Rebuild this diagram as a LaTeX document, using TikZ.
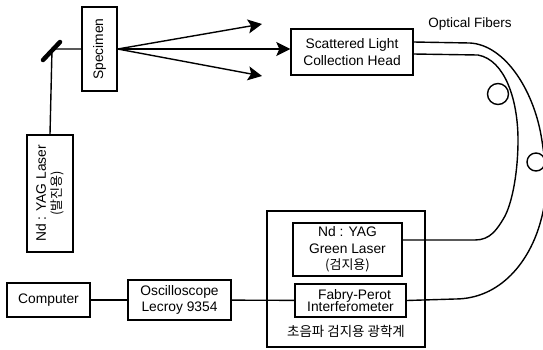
\documentclass[tikz,border=0pt]{standalone}
\usepackage{fontspec}
\setmainfont{Liberation Sans}
\newfontfamily\krfont{Noto Sans CJK KR}
\usetikzlibrary{arrows.meta,calc}

\begin{document}
\begin{tikzpicture}[x=1pt,y=-1pt,>={Stealth[length=14pt,width=14pt,inset=3pt]},line width=1.4pt,
    box/.style={draw,inner sep=0pt,align=center,font=\fontsize{13.8}{16.5}\selectfont}]
    \useasboundingbox (0,0) rectangle (543,349);

    % outer housing of the optical system
    \node[box,minimum width=158pt,minimum height=136pt] (optic) at (346,279) {};
    \node[font=\fontsize{13.5}{15}\krfont] (opticlabel) at (346,331) {초음파 검지용 광학계};

    % boxes
    \node[box,rotate=90,minimum width=84pt,minimum height=35pt] (specimen) at (99.5,49) {Specimen};
    \node[box,rotate=90,minimum width=117pt,minimum height=46pt] (laser) at (50,193.5)
        {Nd : YAG Laser\\[-1pt]{\krfont\fontsize{13}{15}\selectfont (발진용)}};
    \node[box,minimum width=122pt,minimum height=46pt] (head) at (352,52) {Scattered Light\\Collection Head};
    \node[box,minimum width=109pt,minimum height=53pt] (green) at (347.5,249.5)
        {Nd : YAG\\Green Laser\\{\krfont\fontsize{13}{15}\selectfont (검지용)}};
    \node[box,minimum width=111pt,minimum height=33pt] (fabry) at (350.5,300.5)
        {\hspace{8pt}Fabry-Perot\\[-4pt]Interferometer};
    \node[box,minimum width=83pt,minimum height=34pt] (computer) at (48.5,300) {Computer};
    \node[box,minimum width=103pt,minimum height=40pt] (scope) at (179.5,300) {Oscilloscope\\Lecroy 9354};
    \node[font=\fontsize{13.5}{16}\selectfont] (fiberlabel) at (470,24) {Optical Fibers};

    % mirror and beam
    \coordinate (mirror) at (52,49);
    \draw[line width=4.5pt,line cap=round] (43,60) -- (60,42);
    \draw (laser.east) -- (mirror) -- (specimen.north);

    % scattered light
    \coordinate (tipup) at (262,24);
    \coordinate (tipdown) at (262,76);
    \draw[->] (specimen.south) -- (tipup);
    \draw[->] (specimen.south) -- (tipdown);
    \draw[->] (specimen.south) -- (specimen.south -| head.west);

    % signal chain
    \draw (computer) -- (scope);
    \draw (scope) -- (fabry);

    % fibers
    \coordinate (outera) at (head.east |- 0,42);
    \coordinate (innera) at (head.east |- 0,54);
    \coordinate (greenport) at (green.east |- 0,240);
    \draw (outera) -- (470,43) .. controls (505,45) and (533,90) .. (541,135)
        .. controls (547,170) and (548,195) .. (541,220)
        .. controls (530,262) and (500,299) .. (455,299) -- (fabry.east);
    \draw (innera) -- (478,55) .. controls (505,60) and (518,100) .. (518,140)
        .. controls (518,170) and (513,200) .. (505,216)
        .. controls (497,230) and (490,240) .. (475,240) -- (greenport);

    % fiber loops
    \draw[fill=white] (498,94) circle (10.5);
    \draw[fill=white] (536,162) circle (9);
\end{tikzpicture}
\end{document}
